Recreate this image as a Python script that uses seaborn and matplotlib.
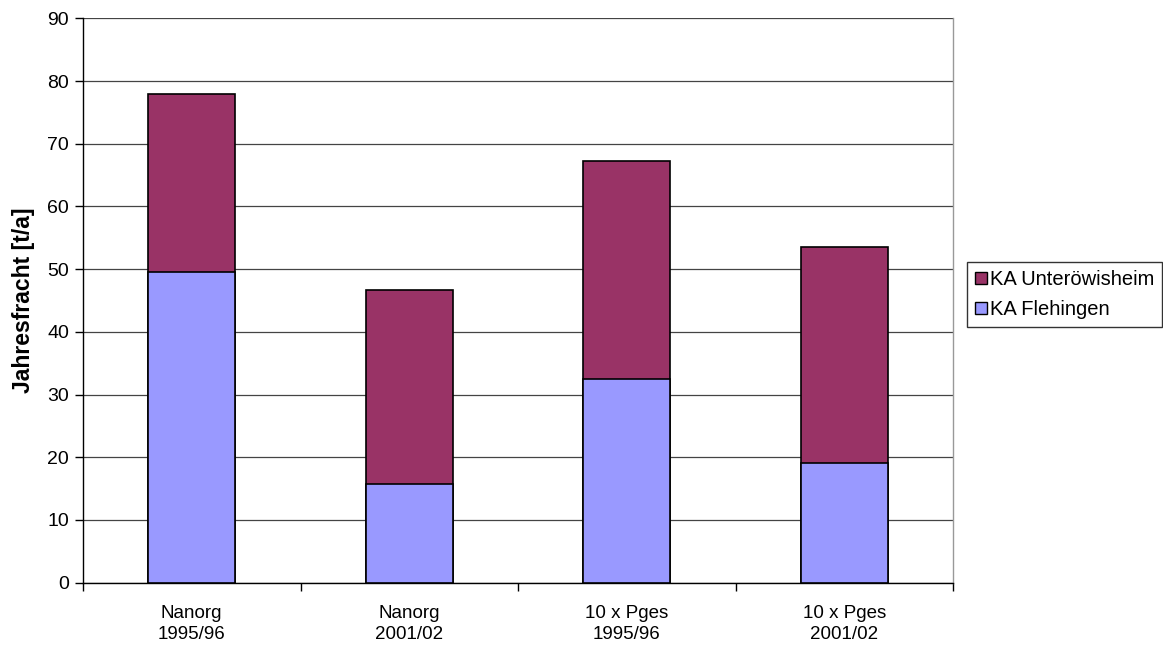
import matplotlib
matplotlib.use("Agg")
import matplotlib.pyplot as plt
import seaborn as sns
import pandas as pd
import numpy as np
from matplotlib.patches import Patch
from matplotlib.ticker import FixedLocator

categories = ["Nanorg\n1995/96", "Nanorg\n2001/02", "10 x Pges\n1995/96", "10 x Pges\n2001/02"]
flehingen = [49.6, 15.7, 32.5, 19.1]
unteroewisheim = [28.3, 31.0, 34.7, 34.4]
series_names = ["KA Unteröwisheim", "KA Flehingen"]
yticks = [0, 10, 20, 30, 40, 50, 60, 70, 80, 90]

c_unter = "#993366"
c_fleh = "#9999FF"

sns.set_style("white")
plt.rcParams['font.family'] = ['Liberation Sans', 'DejaVu Sans']
plt.rcParams['text.color'] = 'black'
plt.rcParams['axes.labelcolor'] = 'black'
plt.rcParams['xtick.color'] = 'black'
plt.rcParams['ytick.color'] = 'black'

df = pd.DataFrame({
    "cat": categories,
    "fleh": flehingen,
    "total": np.array(flehingen) + np.array(unteroewisheim),
})

fig = plt.figure(figsize=(11.63, 6.46), dpi=100)
ax = fig.add_axes([83/1163, 1-582.7/646, 870/1163, 564.4/646])

sns.barplot(data=df, x="cat", y="total", color=c_unter, width=0.4,
            edgecolor="black", linewidth=1.2, saturation=1, ax=ax, zorder=3)
sns.barplot(data=df, x="cat", y="fleh", color=c_fleh, width=0.4,
            edgecolor="black", linewidth=1.2, saturation=1, ax=ax, zorder=4)

ax.set_xlim(-0.5, 3.5)
ax.set_ylim(0, 90)
ax.set_yticks(yticks)
ax.set_yticklabels([str(v) for v in yticks], fontsize=14, color="black")
ax.yaxis.grid(True, color="#444444", linewidth=0.9, zorder=0)
ax.set_axisbelow(True)

ax.set_xticks(range(4))
ax.set_xticklabels(categories, fontsize=13.5, linespacing=1.3, color="black")
ax.tick_params(axis="x", which="major", length=0, pad=16)
ax.xaxis.set_minor_locator(FixedLocator([-0.5, 0.5, 1.5, 2.5, 3.5]))
ax.tick_params(axis="x", which="minor", bottom=True, length=6, width=1,
               color="black", direction="out")
ax.tick_params(axis="y", length=6, width=1, color="black", direction="out",
               pad=4, left=True)

ax.set_xlabel("")
ax.set_ylabel("Jahresfracht [t/a]", fontsize=16.5, fontweight="bold", color="black")
ax.yaxis.set_label_coords(-(83-35)/870, 0.5)

ax.spines["top"].set_visible(False)
ax.spines["left"].set_color("black")
ax.spines["bottom"].set_color("black")
ax.spines["left"].set_linewidth(1)
ax.spines["bottom"].set_linewidth(1)
ax.spines["right"].set_color("#999999")
ax.spines["right"].set_linewidth(1)

handles = [Patch(facecolor=c_unter, edgecolor="black", linewidth=1),
           Patch(facecolor=c_fleh, edgecolor="black", linewidth=1)]
leg = fig.legend(handles, series_names, loc="upper left",
                 bbox_to_anchor=(967/1163, 1-262/646), fontsize=14.5,
                 frameon=True, fancybox=False, edgecolor="black",
                 handlelength=0.6, handleheight=0.6, handletextpad=0.12,
                 borderpad=0.4, labelspacing=0.55, borderaxespad=0)
leg.get_frame().set_linewidth(1)
for t in leg.get_texts():
    t.set_color("black")

fig.savefig("out.png", dpi=100)
